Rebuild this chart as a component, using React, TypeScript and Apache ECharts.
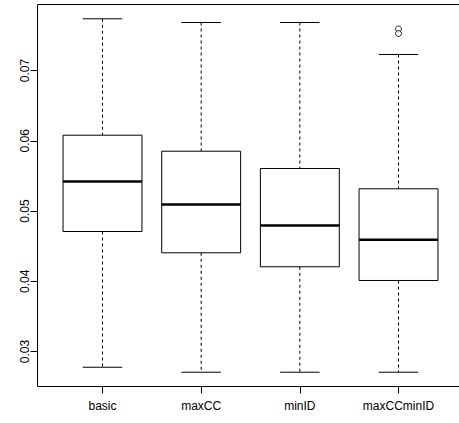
import React, { useEffect, useRef } from "react";
import * as echarts from "echarts";

const categories = ["basic", "maxCC", "minID", "maxCCminID"];
const whiskerLow = [0.02776, 0.02705, 0.02705, 0.02705];
const q1 = [0.04708, 0.04405, 0.04206, 0.04011];
const medians = [0.0542, 0.05093, 0.04794, 0.0459];
const q3 = [0.06079, 0.05851, 0.05605, 0.05316];
const whiskerHigh = [0.07736, 0.07683, 0.07683, 0.07228];
const outlierCategory = [3, 3];
const outlierValues = [0.07591, 0.07527];
const yMin = 0.03;
const yMax = 0.07;
const yStep = 0.01;

const FONT = "'Liberation Sans', Arial, Helvetica, sans-serif";

export default function App() {
  const ref = useRef<HTMLDivElement>(null);
  useEffect(() => {
    if (!ref.current) return;
    const chart = echarts.init(ref.current, undefined, { renderer: "svg" });
    const boxData = categories.map((_, i) => [i, whiskerLow[i], q1[i], medians[i], q3[i], whiskerHigh[i]]);
    const outData = outlierValues.map((v, i) => [outlierCategory[i], v]);
    chart.setOption({
      animation: false,
      backgroundColor: "#ffffff",
      grid: { left: 53.17, top: 70.5, width: 394.67, height: 281 },
      xAxis: {
        type: "category",
        data: categories,
        boundaryGap: true,
        offset: 35,
        axisLine: { show: false },
        axisTick: { show: true, alignWithLabel: true, length: 7, lineStyle: { color: "#000", width: 1 } },
        axisLabel: { color: "#000", fontSize: 12, fontFamily: FONT, margin: 13 },
        splitLine: { show: false },
      },
      yAxis: {
        type: "value",
        min: yMin,
        max: yMax,
        interval: yStep,
        offset: 15.67,
        axisLine: { show: true, lineStyle: { color: "#000", width: 1 } },
        axisTick: { show: true, length: 7, lineStyle: { color: "#000", width: 1 } },
        axisLabel: {
          color: "#000",
          fontSize: 12,
          fontFamily: FONT,
          rotate: 90,
          margin: 7,
          formatter: (v: number) => v.toFixed(2),
        },
        splitLine: { show: false },
      },
      graphic: [
        {
          type: "rect",
          shape: { x: 37.5, y: 4.5, width: 500, height: 382 },
          style: { fill: "none", stroke: "#000", lineWidth: 1 },
          z: 100,
        },
      ],
      series: [
        {
          type: "custom",
          clip: false,
          encode: { x: 0, y: [1, 2, 3, 4, 5] },
          data: boxData,
          renderItem: (params: any, api: any) => {
            const i = api.value(0);
            const pLo = api.coord([i, api.value(1)]);
            const pA = api.coord([i, api.value(2)]);
            const pM = api.coord([i, api.value(3)]);
            const pB = api.coord([i, api.value(4)]);
            const pHi = api.coord([i, api.value(5)]);
            const band = api.size([1, 0])[0];
            const bw = band * 0.8;
            const cw = bw * 0.5;
            const cx = pLo[0];
            const dash = { stroke: "#000", lineWidth: 1, lineDash: [3, 3] };
            const solid = { stroke: "#000", lineWidth: 1 };
            return {
              type: "group",
              children: [
                { type: "line", shape: { x1: cx, y1: pHi[1], x2: cx, y2: pB[1] }, style: dash },
                { type: "line", shape: { x1: cx, y1: pA[1], x2: cx, y2: pLo[1] }, style: dash },
                { type: "line", shape: { x1: cx - cw / 2, y1: pHi[1], x2: cx + cw / 2, y2: pHi[1] }, style: solid },
                { type: "line", shape: { x1: cx - cw / 2, y1: pLo[1], x2: cx + cw / 2, y2: pLo[1] }, style: solid },
                {
                  type: "rect",
                  shape: { x: cx - bw / 2, y: pB[1], width: bw, height: pA[1] - pB[1] },
                  style: { fill: "#fff", stroke: "#000", lineWidth: 1 },
                },
                { type: "line", shape: { x1: cx - bw / 2, y1: pM[1], x2: cx + bw / 2, y2: pM[1] }, style: { stroke: "#000", lineWidth: 2.4 } },
              ],
            };
          },
        },
        {
          type: "scatter",
          clip: false,
          data: outData,
          symbol: "circle",
          symbolSize: 6,
          itemStyle: { color: "#fff", borderColor: "#000", borderWidth: 1 },
        },
      ],
    });
    return () => chart.dispose();
  }, []);
  return (
    <div
      ref={ref}
      style={{ position: "absolute", left: 0, top: 0, width: 459, height: 423, background: "#fff" }}
    />
  );
}
